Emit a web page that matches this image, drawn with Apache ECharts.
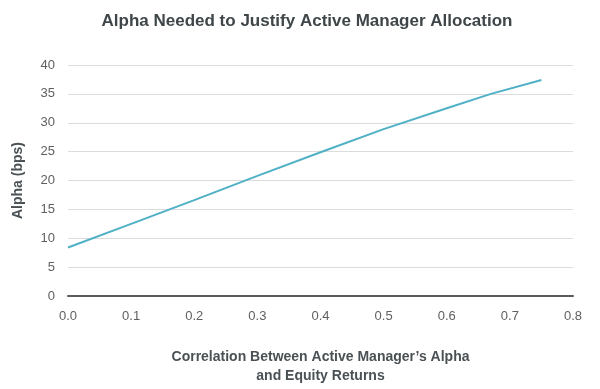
<!DOCTYPE html>
<html>
<head>
<meta charset="utf-8">
<script src="https://cdn.jsdelivr.net/npm/echarts@6/dist/echarts.min.js"></script>
<style>html,body{margin:0;padding:0;background:#fff}#c{width:600px;height:389px}</style>
</head>
<body>
<div id="c"></div>
<script>
var correlation = [0, 0.1, 0.2, 0.3, 0.4, 0.5, 0.6, 0.67, 0.75];
var alphaBps = [8.4, 12.5, 16.6, 20.8, 24.9, 28.9, 32.5, 35.0, 37.4];
var titleText = 'Alpha Needed to Justify Active Manager Allocation';
var xName = 'Correlation Between Active Manager\u2019s Alpha\nand Equity Returns';
var yName = 'Alpha (bps)';

var data = correlation.map(function (c, i) { return [c, alphaBps[i]]; });
var chart = echarts.init(document.getElementById('c'), null, {renderer: 'canvas'});
chart.setOption({
  animation: false,
  backgroundColor: '#ffffff',
  title: {
    text: titleText, left: 302, top: 8, textAlign: 'center',
    textStyle: {fontFamily: 'Liberation Sans', fontSize: 17, fontWeight: 'bold', color: '#3f4649'}
  },
  grid: {left: 68, right: 27, top: 65, bottom: 93, containLabel: false, outerBoundsMode: 'none'},
  xAxis: {
    type: 'value', min: 0, max: 0.8, interval: 0.1,
    name: xName, nameLocation: 'middle', nameGap: 52,
    nameTextStyle: {fontFamily: 'Liberation Sans', fontSize: 14, fontWeight: 'bold', color: '#4a5154', lineHeight: 19},
    axisLine: {show: true, onZero: true, lineStyle: {color: '#5a5a5a', width: 2}},
    axisTick: {show: false},
    splitLine: {show: false},
    axisLabel: {margin: 14, fontFamily: 'Liberation Sans', fontSize: 13, color: '#606060',
      formatter: function (v) { return v.toFixed(1); }}
  },
  yAxis: {
    type: 'value', min: 0, max: 40, interval: 5,
    name: yName, nameLocation: 'middle', nameGap: 43, nameRotate: 90,
    nameTextStyle: {fontFamily: 'Liberation Sans', fontSize: 14, fontWeight: 'bold', color: '#4a5154'},
    axisLine: {show: false},
    axisTick: {show: false},
    splitLine: {lineStyle: {color: '#dcdcdc', width: 1}},
    axisLabel: {margin: 13, fontFamily: 'Liberation Sans', fontSize: 13, color: '#606060'}
  },
  series: [{
    type: 'line', data: data, showSymbol: false, symbol: 'none',
    lineStyle: {color: '#4fb0c6', width: 2}
  }]
});
</script>
</body>
</html>
